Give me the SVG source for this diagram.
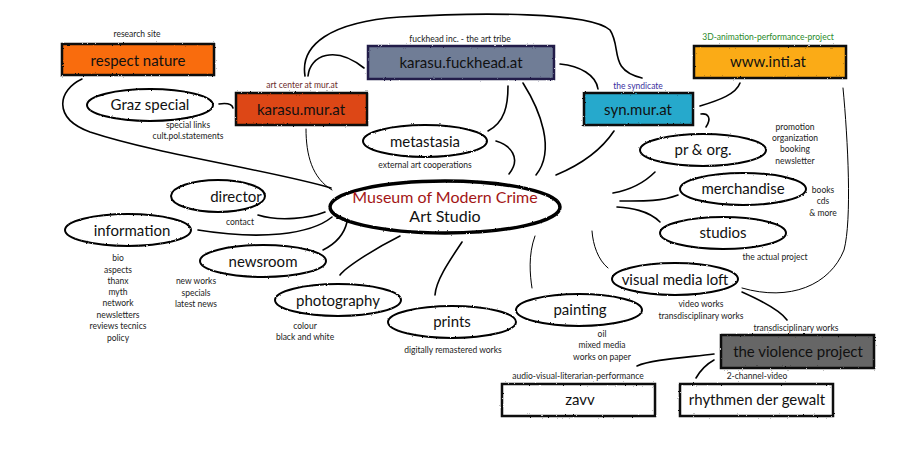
<svg xmlns="http://www.w3.org/2000/svg" width="900" height="450" viewBox="0 0 900 450">
<defs>
<filter id="rough" x="-5%" y="-20%" width="110%" height="140%">
<feTurbulence type="fractalNoise" baseFrequency="0.6" numOctaves="2" seed="3" result="n"/>
<feDisplacementMap in="SourceGraphic" in2="n" scale="2" xChannelSelector="R" yChannelSelector="G"/>
</filter>
</defs>
<style>
text{font-family:Lato,"Open Sans","Noto Sans",sans-serif;text-anchor:middle;fill:#111}
.n{font-size:15px}
.s{font-size:8.5px;fill:#222}
.ell{fill:#fff;stroke:#000;stroke-width:2}
.box{stroke:#111;stroke-width:2.5}
.c path{fill:none;stroke:#000;stroke-width:1.6;stroke-linecap:round}
.c path.t{stroke-width:1}
</style>
<rect width="900" height="450" fill="#fff"/>
<g class="c" id="connectors">
<path d="M82,79 C58,90 52,118 90,132 C160,155 270,170 331,188"/>
<path d="M305,76 C300,45 330,22 400,17 C480,12 590,12 610,30 C622,48 608,70 642,78"/>
<path d="M308,76 C310,55 335,45 364,68"/>
<path d="M560,64 C580,66 596,75 598,89"/>
<path d="M508,86 C508,105 505,122 488,131"/>
<path d="M523,83 C540,110 556,150 536,175"/>
<path d="M496,141 C510,145 522,158 509,174"/>
<path d="M614,131 C600,152 580,165 556,175"/>
<path d="M700,106 C720,100 736,94 740,83"/>
<path d="M701,114 C708,113 712,118 706,127"/>
<path d="M655,172 C645,182 630,190 613,193"/>
<path d="M678,195 C660,202 640,201 620,201"/>
<path d="M660,222 C648,210 630,208 617,207"/>
<path class="t" d="M592,231 C593,245 598,260 608,268"/>
<path d="M742,288 C790,302 830,285 844,250 C852,220 848,140 843,88" class="t"/>
<path d="M742,292 C760,300 780,310 787,320"/>
<path d="M714,354 C680,358 650,360 637,366"/>
<path d="M714,360 C705,365 700,371 696,378"/>
<path class="t" d="M535,236 C528,255 530,275 532,288"/>
<path d="M462,242 C450,260 436,280 435,295"/>
<path d="M400,236 C372,250 345,268 340,275"/>
<path d="M347,222 C344,235 335,244 323,250"/>
<path d="M198,230 C260,240 310,235 332,217"/>
<path d="M258,215 C280,222 310,218 325,212"/>
<path class="t" d="M306,129 C306,155 312,178 332,190"/>
<path d="M219,104 C226,103 232,104 233,108"/>
</g>
<g id="respect-nature">
<rect class="box" x="62" y="44" width="152" height="31" fill="#f96c07" filter="url(#rough)"/>
<text class="n" x="138" y="66">respect nature</text>
<text class="s" x="137" y="37">research site</text>
</g>
<g id="karasu-mur">
<rect class="box" x="236" y="93" width="131" height="32" fill="#dd4712" filter="url(#rough)"/>
<text class="n" x="301" y="115">karasu.mur.at</text>
<text class="s" x="302" y="88" style="fill:#6b2b2b">art center at mur.at</text>
</g>
<g id="karasu-fuckhead">
<rect class="box" x="368" y="46" width="186" height="33" fill="#6f7d96" stroke="#201a48" style="stroke:#201a48" filter="url(#rough)"/>
<text class="n" x="461" y="68">karasu.fuckhead.at</text>
<text class="s" x="460" y="42">fuckhead inc. - the art tribe</text>
</g>
<g id="syn-mur">
<rect class="box" x="584" y="93" width="109" height="32" fill="#26a9cc" filter="url(#rough)"/>
<text class="n" x="638" y="115">syn.mur.at</text>
<text class="s" x="638" y="89" style="fill:#3b2fa0">the syndicate</text>
</g>
<g id="inti">
<rect class="box" x="694" y="46" width="152" height="32" fill="#fbab14" filter="url(#rough)"/>
<text class="n" x="768" y="67">www.inti.at</text>
<text class="s" x="768" y="40" style="fill:#2a8a2a">3D-animation-performance-project</text>
</g>
<g id="graz-special">
<ellipse class="ell" cx="150" cy="105" rx="63" ry="16" filter="url(#rough)"/>
<text class="n" x="150" y="110">Graz special</text>
<text class="s" x="188" y="128">special links</text>
<text class="s" x="188" y="139">cult.pol.statements</text>
</g>
<g id="metastasia">
<ellipse class="ell" cx="425" cy="141" rx="62" ry="16" filter="url(#rough)"/>
<text class="n" x="425" y="147">metastasia</text>
<text class="s" x="425" y="168">external art cooperations</text>
</g>
<g id="pr-org">
<ellipse class="ell" cx="703" cy="150" rx="63" ry="16" filter="url(#rough)"/>
<text class="n" x="703" y="155">pr &amp; org.</text>
<text class="s" x="795" y="130">promotion</text>
<text class="s" x="795" y="141">organization</text>
<text class="s" x="795" y="152">booking</text>
<text class="s" x="795" y="164">newsletter</text>
</g>
<g id="museum">
<ellipse cx="445" cy="207" rx="115" ry="26" fill="#fff" stroke="#000" stroke-width="3.5" filter="url(#rough)"/>
<text x="445" y="203" style="font-size:16px;fill:#a31515">Museum of Modern Crime</text>
<text x="445" y="222" style="font-size:16px">Art Studio</text>
</g>
<g id="director">
<ellipse class="ell" cx="218" cy="196" rx="47" ry="16" filter="url(#rough)"/>
<text class="n" x="236" y="202">director</text>
<text class="s" x="240" y="225">contact</text>
</g>
<g id="information">
<ellipse class="ell" cx="128" cy="230" rx="63" ry="16" filter="url(#rough)"/>
<text class="n" x="132" y="236">information</text>
<text class="s" x="118" y="261">bio</text>
<text class="s" x="118" y="273">aspects</text>
<text class="s" x="118" y="284">thanx</text>
<text class="s" x="118" y="295">myth</text>
<text class="s" x="118" y="306">network</text>
<text class="s" x="118" y="318">newsletters</text>
<text class="s" x="118" y="329">reviews tecnics</text>
<text class="s" x="118" y="341">policy</text>
</g>
<g id="newsroom">
<ellipse class="ell" cx="263" cy="261" rx="63" ry="16" filter="url(#rough)"/>
<text class="n" x="263" y="267">newsroom</text>
<text class="s" x="196" y="284">new works</text>
<text class="s" x="196" y="296">specials</text>
<text class="s" x="196" y="307">latest news</text>
</g>
<g id="photography">
<ellipse class="ell" cx="338" cy="300" rx="63" ry="16" filter="url(#rough)"/>
<text class="n" x="338" y="306">photography</text>
<text class="s" x="305" y="329">colour</text>
<text class="s" x="305" y="340">black and white</text>
</g>
<g id="prints">
<ellipse class="ell" cx="452" cy="322" rx="64" ry="16" filter="url(#rough)"/>
<text class="n" x="452" y="327">prints</text>
<text class="s" x="453" y="353">digitally remastered works</text>
</g>
<g id="painting">
<ellipse class="ell" cx="579" cy="310" rx="63" ry="16" filter="url(#rough)"/>
<text class="n" x="580" y="315">painting</text>
<text class="s" x="602" y="337">oil</text>
<text class="s" x="602" y="348">mixed media</text>
<text class="s" x="602" y="360">works on paper</text>
</g>
<g id="visual-media-loft">
<ellipse class="ell" cx="675" cy="279" rx="63" ry="16" filter="url(#rough)"/>
<text class="n" x="675" y="285">visual media loft</text>
<text class="s" x="701" y="307">video works</text>
<text class="s" x="701" y="319">transdisciplinary works</text>
</g>
<g id="merchandise">
<ellipse class="ell" cx="743" cy="189" rx="63" ry="16" filter="url(#rough)"/>
<text class="n" x="743" y="194">merchandise</text>
<text class="s" x="823" y="193">books</text>
<text class="s" x="823" y="204">cds</text>
<text class="s" x="823" y="216">&amp; more</text>
</g>
<g id="studios">
<ellipse class="ell" cx="723" cy="233" rx="63" ry="16" filter="url(#rough)"/>
<text class="n" x="723" y="238">studios</text>
<text class="s" x="775" y="260">the actual project</text>
</g>
<g id="violence-project">
<rect class="box" x="721" y="335" width="153" height="33" fill="#666" filter="url(#rough)"/>
<text class="n" x="798" y="357">the violence project</text>
<text class="s" x="796" y="331">transdisciplinary works</text>
</g>
<g id="zavv">
<rect class="box" x="502" y="384" width="153" height="32" fill="#fff" filter="url(#rough)"/>
<text class="n" x="580" y="405">zavv</text>
<text class="s" x="578" y="379">audio-visual-literarian-performance</text>
</g>
<g id="rhythmen">
<rect class="box" x="680" y="384" width="153" height="32" fill="#fff" filter="url(#rough)"/>
<text class="n" x="757" y="405">rhythmen der gewalt</text>
<text class="s" x="757" y="379">2-channel-video</text>
</g>
</svg>
